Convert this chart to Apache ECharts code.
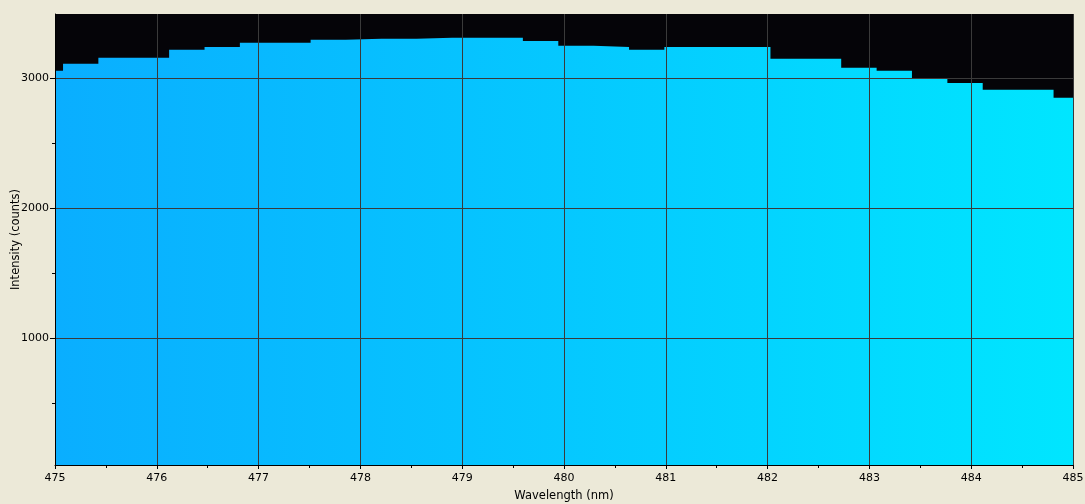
<!DOCTYPE html>
<html>
<head>
<meta charset="utf-8">
<script src="https://cdn.jsdelivr.net/npm/echarts@6/dist/echarts.min.js"></script>
<style>
html,body{margin:0;padding:0;background:#ECE9D8;}
#chart{width:1085px;height:504px;}
</style>
</head>
<body>
<div id="chart"></div>
<script>
// Sample wavelengths (nm) and intensities (counts)
const wavelengths = [475.000, 475.079, 475.426, 475.774, 476.121, 476.469, 476.816, 477.163, 477.511, 477.858,
  478.206, 478.553, 478.901, 479.248, 479.596, 479.944, 480.291, 480.639, 480.986, 481.333,
  481.680, 482.028, 482.376, 482.723, 483.071, 483.418, 483.766, 484.113, 484.461, 484.809, 485.000];
const intensities = [3058, 3112, 3158, 3158, 3219, 3242, 3273, 3273, 3296, 3304,
  3304, 3312, 3312, 3312, 3288, 3250, 3242, 3219, 3242, 3242,
  3242, 3150, 3150, 3081, 3058, 2996, 2965, 2912, 2912, 2850, 2850];
const xTickValues = [475, 476, 477, 478, 479, 480, 481, 482, 483, 484, 485];
const yLabelValues = [1000, 2000, 3000];
const yMinorValues = [500, 1500, 2500];
const xName = 'Wavelength (nm)';
const yName = 'Intensity (counts)';

const yMin = 25, yMax = 3495;
const font = 'DejaVu Sans';
const data = wavelengths.map((w, i) => [w, intensities[i]]);

const chart = echarts.init(document.getElementById('chart'), null, {renderer: 'canvas'});
chart.setOption({
  animation: false,
  backgroundColor: '#ECE9D8',
  grid: {left: 55, right: 12, top: 14, bottom: 39, show: true, backgroundColor: '#050408', borderWidth: 0,
    containLabel: false, outerBoundsMode: 'none'},
  xAxis: {
    type: 'value', min: 475, max: 485, interval: 1, z: 10,
    name: xName, nameLocation: 'middle', nameGap: 25, nameMoveOverlap: false,
    nameTextStyle: {color: '#000', fontFamily: font, fontSize: 11.5},
    axisLine: {show: true, lineStyle: {color: '#000', width: 1}},
    axisTick: {show: true, length: 4, lineStyle: {color: '#000'}},
    minorTick: {show: true, splitNumber: 2, length: 3, lineStyle: {color: '#000'}},
    axisLabel: {color: '#000', fontFamily: font, fontSize: 11, margin: 8,
      customValues: xTickValues, formatter: v => String(v)},
    splitLine: {show: true, lineStyle: {color: '#3a3a3a', width: 1}},
    minorSplitLine: {show: false}
  },
  yAxis: [{
    type: 'value', min: yMin, max: yMax, z: 10,
    name: yName, nameLocation: 'middle', nameGap: 33, nameMoveOverlap: false,
    nameTextStyle: {color: '#000', fontFamily: font, fontSize: 11.5},
    axisLine: {show: true, lineStyle: {color: '#000', width: 1}},
    axisTick: {show: true, length: 5, customValues: yLabelValues, lineStyle: {color: '#000'}},
    axisLabel: {color: '#000', fontFamily: font, fontSize: 11, margin: 6, customValues: yLabelValues,
      formatter: v => String(v)},
    splitLine: {show: true, lineStyle: {color: '#3a3a3a', width: 1}}
  }, {
    type: 'value', min: yMin, max: yMax, position: 'left', z: 10,
    axisLine: {show: false},
    axisTick: {show: true, length: 3, customValues: yMinorValues, lineStyle: {color: '#000'}},
    axisLabel: {show: false},
    splitLine: {show: false}
  }],
  series: [{
    type: 'line',
    data: data,
    step: 'end',
    showSymbol: false,
    symbol: 'none',
    lineStyle: {width: 0, opacity: 0},
    areaStyle: {
      opacity: 1,
      color: new echarts.graphic.LinearGradient(0, 0, 1, 0, [
        {offset: 0, color: '#0AAEFF'},
        {offset: 0.5, color: '#05C8FF'},
        {offset: 1, color: '#00E6FF'}
      ])
    },
    z: 2
  }]
});
</script>
</body>
</html>
